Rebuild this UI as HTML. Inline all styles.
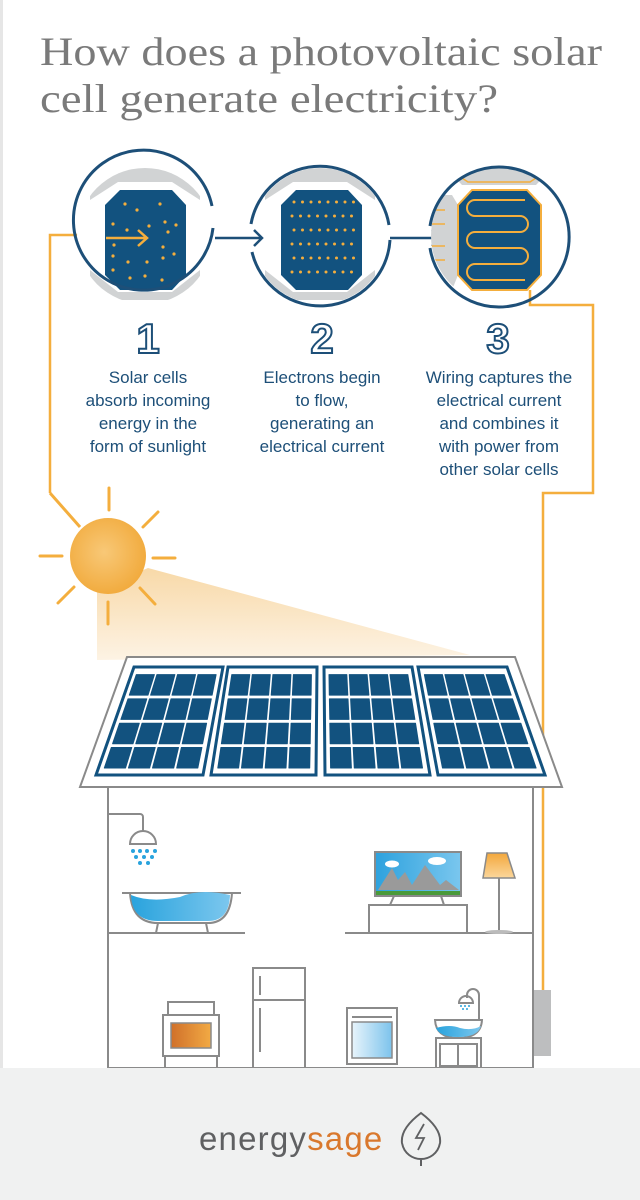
<!DOCTYPE html>
<html><head><meta charset="utf-8"><style>
html,body{margin:0;padding:0;background:#fff;}
svg{display:block;}
</style></head><body>
<svg id="s" width="640" height="1200" viewBox="0 0 640 1200" xmlns="http://www.w3.org/2000/svg">
<defs>
<radialGradient id="sun" cx="0.45" cy="0.45" r="0.6"><stop offset="0" stop-color="#f8c877"/><stop offset="1" stop-color="#f1a93a"/></radialGradient>
<linearGradient id="beam" x1="0" y1="0" x2="0" y2="1"><stop offset="0" stop-color="#f8d9a8"/><stop offset="1" stop-color="#fdf3e4"/></linearGradient>
<linearGradient id="water" x1="0" x2="1"><stop offset="0" stop-color="#29a3dd"/><stop offset="1" stop-color="#7cc7ee"/></linearGradient>
<linearGradient id="oven" x1="0" x2="1"><stop offset="0" stop-color="#d0702a"/><stop offset="1" stop-color="#f2aa44"/></linearGradient>
<linearGradient id="wash" x1="0" x2="1"><stop offset="0" stop-color="#e8f4fb"/><stop offset="1" stop-color="#7cc3ec"/></linearGradient>
<linearGradient id="sky" x1="0" x2="1"><stop offset="0" stop-color="#2ea2de"/><stop offset="1" stop-color="#79c6ee"/></linearGradient>
<linearGradient id="shade" x1="0" y1="0" x2="0" y2="1"><stop offset="0" stop-color="#f3a73b"/><stop offset="1" stop-color="#fbd79c"/></linearGradient>
<clipPath id="c1"><circle cx="145" cy="236" r="68"/></clipPath>
<clipPath id="c2"><circle cx="320" cy="236" r="68"/></clipPath>
<clipPath id="c3"><circle cx="499" cy="236" r="68"/></clipPath>
</defs>
<rect x="0" y="0" width="3" height="1068" fill="#e6e6e6"/>
<text x="40" y="65" font-family="Liberation Serif, serif" font-size="40" fill="#7a7a7a" textLength="562" lengthAdjust="spacingAndGlyphs">How does a photovoltaic solar</text>
<text x="40" y="112" font-family="Liberation Serif, serif" font-size="40" fill="#7a7a7a" textLength="458" lengthAdjust="spacingAndGlyphs">cell generate electricity?</text>

<polygon points="97,590 148,568 470,655 97,660" fill="url(#beam)"/>

<polyline points="50,493 50,235 140,235" fill="none" stroke="#f4ae3d" stroke-width="2.5"/>
<polyline points="50,493 80,527" fill="none" stroke="#f4ae3d" stroke-width="3"/>
<polyline points="530,290 530,305 593,305 593,493 543,493 543,990" fill="none" stroke="#f4ae3d" stroke-width="2.5"/>

<!-- circle 1 -->
<g clip-path="url(#c1)">
<rect x="70" y="160" width="150" height="150" fill="#fff"/>
<polygon points="110,160 180,160 200,180 200,300 90,300 90,180" fill="#d1d3d4"/>
<polygon points="118,182 172,182 200,200 200,270 172,292 118,292 90,270 90,200" fill="#fff"/>
<polygon points="120,190 172,190 186,205 186,275 172,290 120,290 105,275 105,205" fill="#12527f"/>
</g>
<path d="M 213,228 A 70 70 0 1 1 212,206" fill="none" stroke="#1d4f78" stroke-width="3"/>
<g id="dots1" fill="#f4ae3d"></g>
<path d="M106,238 H147 M138,230 L147,238 L138,246" fill="none" stroke="#f4ae3d" stroke-width="2.5"/>
<path d="M215,238 H262 M254,230 L262,238 L254,246" fill="none" stroke="#1d4f78" stroke-width="2.5"/>

<!-- circle 2 -->
<g clip-path="url(#c2)">
<polygon points="285,160 355,160 375,180 375,300 265,300 265,180" fill="#d1d3d4"/>
<polygon points="293,182 347,182 375,200 375,270 347,292 293,292 265,270 265,200" fill="#fff"/>
<polygon points="296,190 348,190 362,205 362,275 348,290 296,290 281,275 281,205" fill="#12527f"/>
</g>
<path d="M 389,225 A 70 70 0 0 0 251,224" fill="none" stroke="#1d4f78" stroke-width="3"/>
<path d="M 252,252 A 70 70 0 0 0 390,240" fill="none" stroke="#1d4f78" stroke-width="3"/>
<g id="dots2" fill="#f4ae3d"></g>
<path d="M390,238 H440 M432,230 L440,238 L432,246" fill="none" stroke="#1d4f78" stroke-width="2.5"/>

<!-- circle 3 -->
<g clip-path="url(#c3)">
<polygon points="462,160 536,160 550,170 536,185 462,185 448,170" fill="#d1d3d4"/>
<polygon points="430,195 452,195 458,205 458,275 452,290 430,290" fill="#d1d3d4"/>
<polygon points="468,166 530,166 542,174 530,182 468,182 456,174" fill="none" stroke="#f4ae3d" stroke-width="1.5"/>
<polygon points="472,190 527,190 541,205 541,275 527,290 472,290 458,275 458,205" fill="#12527f" stroke="#f4ae3d" stroke-width="2"/>
<path d="M525,200 H475 a8 8 0 0 0 0 16 H520 a8 8 0 0 1 0 16 H475 a8 8 0 0 0 0 16 H520 a8 8 0 0 1 0 16 H475 a8 8 0 0 0 0 16 H525" fill="none" stroke="#f4ae3d" stroke-width="2"/>
<path d="M430,210 H445 M430,224 H445 M430,246 H445 M430,260 H445" stroke="#f4ae3d" stroke-width="1.5"/>
</g>
<path d="M 430,226 A 70 70 0 1 1 430,248" fill="none" stroke="#1d4f78" stroke-width="3"/>

<g font-family="Liberation Sans, sans-serif" font-size="42" font-weight="bold" fill="#fff" stroke="#1d4f78" stroke-width="2" text-anchor="middle">
<text x="148" y="353">1</text><text x="322" y="353">2</text><text x="498" y="353">3</text>
</g>
<g font-family="Liberation Sans, sans-serif" font-size="17" fill="#1d4f78" text-anchor="middle">
<text x="148" y="383">Solar cells</text><text x="148" y="406">absorb incoming</text><text x="148" y="429">energy in the</text><text x="148" y="452">form of sunlight</text>
<text x="322" y="383">Electrons begin</text><text x="322" y="406">to flow,</text><text x="322" y="429">generating an</text><text x="322" y="452">electrical current</text>
<text x="499" y="383">Wiring captures the</text><text x="499" y="406">electrical current</text><text x="499" y="429">and combines it</text><text x="499" y="452">with power from</text><text x="499" y="475">other solar cells</text>
</g>

<g stroke="#f4ae3d" stroke-width="3" stroke-linecap="round">
<line x1="109" y1="488" x2="109" y2="510"/><line x1="143" y1="527" x2="158" y2="512"/>
<line x1="153" y1="558" x2="175" y2="558"/><line x1="140" y1="588" x2="155" y2="604"/>
<line x1="108" y1="602" x2="108" y2="624"/><line x1="58" y1="603" x2="74" y2="587"/>
<line x1="40" y1="556" x2="62" y2="556"/>
</g>
<circle cx="108" cy="556" r="38" fill="url(#sun)"/>

<polygon points="127,657 515,657 562,787 80,787" fill="#fff" stroke="#8a8a8a" stroke-width="2"/>
<g id="panels"></g>
<g fill="none" stroke="#8a8a8a" stroke-width="2">
<polyline points="108,787 108,1068 533,1068 533,787"/>
<line x1="108" y1="933" x2="245" y2="933"/><line x1="345" y1="933" x2="533" y2="933"/>
<path d="M108,814 H140 a3 3 0 0 1 3 3 V831"/>
<path d="M130,844 a13 13 0 0 1 26 0 Z"/>
<path d="M122,893 H241 M130,893 Q132,923 158,923 H208 Q230,923 232,893"/>
<path d="M158,923 L156,933 M206,923 L208,933"/>
<rect x="375" y="852" width="86" height="44"/>
<path d="M394,896 L390,905 M441,896 L444,905"/>
<rect x="369" y="905" width="98" height="28"/>
<line x1="499" y1="878" x2="499" y2="931"/>
<rect x="168" y="1002" width="46" height="13"/>
<rect x="163" y="1015" width="56" height="41"/>
<path d="M165,1056 V1068 M217,1056 V1068"/>
<rect x="253" y="968" width="52" height="100"/>
<path d="M253,1000 H305 M260,976 V995 M260,1008 V1052"/>
<rect x="347" y="1008" width="50" height="56"/>
<line x1="352" y1="1017" x2="392" y2="1017"/>
<rect x="436" y="1038" width="45" height="30"/>
<rect x="440" y="1044" width="37" height="22"/>
<line x1="458" y1="1044" x2="458" y2="1066"/>
<path d="M435,1020 Q436,1038 458,1038 Q481,1038 482,1020 Z"/>
<path d="M479,1020 V995 a6 6 0 0 0 -12 0 V998"/>
<path d="M459,1003 a7 7 0 0 1 14 0 Z"/>
</g>
<path d="M131,895 Q132,921 158,921 H208 Q229,921 230,895 Q200,888 180,897 Q150,903 131,895 Z" fill="url(#water)"/>
<g fill="#29a3dd">
<circle cx="133" cy="851" r="2"/><circle cx="140" cy="851" r="2"/><circle cx="147" cy="851" r="2"/><circle cx="155" cy="851" r="2"/>
<circle cx="136" cy="857" r="2"/><circle cx="144" cy="857" r="2"/><circle cx="152" cy="857" r="2"/>
<circle cx="140" cy="863" r="2"/><circle cx="148" cy="863" r="2"/>
<circle cx="461" cy="1006" r="1"/><circle cx="465" cy="1006" r="1"/><circle cx="469" cy="1006" r="1"/><circle cx="463" cy="1009" r="1"/><circle cx="467" cy="1009" r="1"/>
</g>
<path d="M436,1028 Q450,1024 460,1028 Q472,1031 481,1026 Q478,1037 458,1037 Q440,1037 436,1028 Z" fill="url(#water)"/>
<rect x="376" y="853" width="84" height="42" fill="url(#sky)"/>
<polygon points="378,890 392,868 398,880 405,872 412,885 425,865 440,885 446,880 459,890" fill="#9a9a9a"/>
<rect x="376" y="891" width="84" height="4" fill="#4a9a3a"/>
<ellipse cx="392" cy="864" rx="7" ry="3.5" fill="#fff"/><ellipse cx="437" cy="861" rx="9" ry="4" fill="#fff"/>
<polygon points="487,853 507,853 515,878 483,878" fill="url(#shade)" stroke="#8a8a8a" stroke-width="1.5"/>
<ellipse cx="499" cy="932" rx="14" ry="2" fill="#bbb"/>
<rect x="171" y="1023" width="40" height="25" fill="url(#oven)" stroke="#8a8a8a" stroke-width="1.5"/>
<rect x="352" y="1022" width="40" height="36" fill="url(#wash)" stroke="#8a8a8a" stroke-width="1.5"/>
<rect x="534" y="990" width="17" height="66" fill="#bdbebf"/>

<rect x="0" y="1068" width="640" height="132" fill="#f0f1f1"/>
<text x="199" y="1150" font-family="Liberation Sans, sans-serif" font-size="33" letter-spacing="1.2"><tspan fill="#5f6062">energy</tspan><tspan fill="#d9782d">sage</tspan></text>
<path d="M421,1113 C405,1125 401,1135 402,1143 C404,1154 413,1159 421,1159 C429,1159 438,1154 440,1143 C441,1135 437,1125 421,1113 Z M421,1159 V1166" fill="none" stroke="#5f6062" stroke-width="2"/>
<path d="M424,1124 L416,1138 H424 L418,1150" fill="none" stroke="#5f6062" stroke-width="1.8"/>
</svg>
<script>
var NS="http://www.w3.org/2000/svg";
function el(p,t,a){var e=document.createElementNS(NS,t);for(var k in a)e.setAttribute(k,a[k]);p.appendChild(e);return e;}
var P=document.getElementById('panels');
var panels=[[134,223,96,203],[228,317,211,316],[324,412,325,430],[418,507,438,545]];
var yt=667,yb=775;
function pt(p,u,v){var l=p[0]+(p[2]-p[0])*v,r=p[1]+(p[3]-p[1])*v;return [(l+(r-l)*u).toFixed(1),(yt+(yb-yt)*v).toFixed(1)];}
panels.forEach(function(p){
 var a=pt(p,0,0),b=pt(p,1,0),c=pt(p,1,1),d=pt(p,0,1);
 el(P,'polygon',{points:[a,b,c,d].join(' '),fill:'#fff',stroke:'#12527f','stroke-width':3});
 for(var i=0;i<4;i++)for(var j=0;j<4;j++){
  var u0=0.055+i*0.228,u1=u0+0.2,v0=0.07+j*0.225,v1=v0+0.19;
  var q=[pt(p,u0,v0),pt(p,u1,v0),pt(p,u1,v1),pt(p,u0,v1)];
  el(P,'polygon',{points:q.join(' '),fill:'#12527f',stroke:'#12527f','stroke-width':1,'stroke-linejoin':'round'});
 }
});
var D1=document.getElementById('dots1');
[[125,204],[137,210],[160,204],[113,224],[127,230],[149,226],[165,222],[176,225],[168,232],[163,247],[113,256],[128,262],[147,262],[163,258],[174,254],[113,270],[130,278],[145,276],[162,280],[114,245]].forEach(function(d){el(D1,'circle',{cx:d[0],cy:d[1],r:1.6});});
var D2=document.getElementById('dots2');
for(var r=0;r<6;r++)for(var k=0;k<8;k++){el(D2,'circle',{cx:292+k*8.5+(r%2?0:2),cy:202+r*14,r:1.5});}
</script>
</body></html>
